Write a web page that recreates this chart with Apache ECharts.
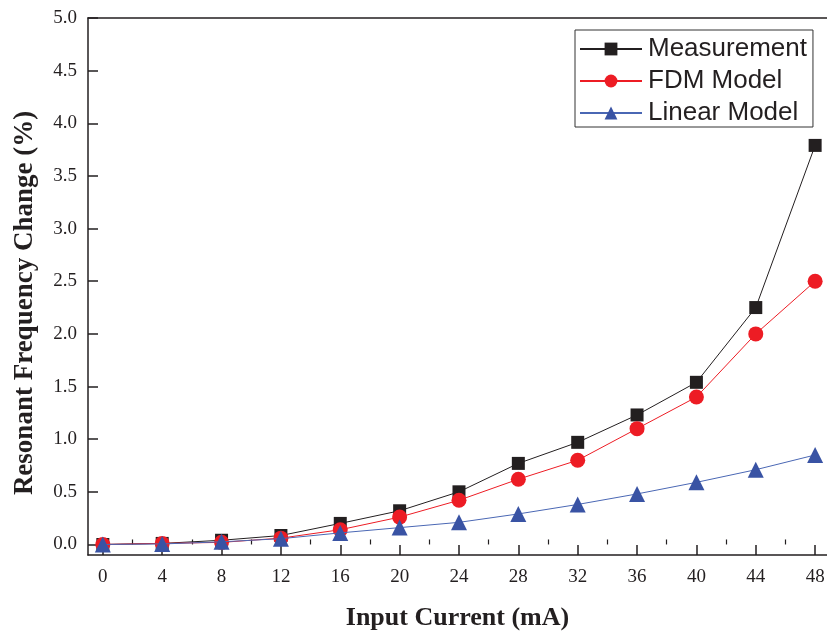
<!DOCTYPE html>
<html>
<head>
<meta charset="utf-8">
<script src="https://cdn.jsdelivr.net/npm/echarts@6/dist/echarts.min.js"></script>
<style>
  html, body { margin: 0; padding: 0; background: #fff; }
  #chart { width: 827px; height: 632px; }
</style>
</head>
<body>
<div id="chart"></div>
<script>
// input current (mA)
const currents = [0, 4, 8, 12, 16, 20, 24, 28, 32, 36, 40, 44, 48]
const measurement = [0.0, 0.01, 0.04, 0.085, 0.2, 0.32, 0.5, 0.77, 0.97, 1.23, 1.54, 2.25, 3.79]
const fdmModel = [0.0, 0.01, 0.02, 0.06, 0.14, 0.26, 0.42, 0.62, 0.8, 1.1, 1.4, 2.0, 2.5]
const linearModel = [0.0, 0.005, 0.025, 0.055, 0.11, 0.16, 0.21, 0.29, 0.38, 0.48, 0.59, 0.71, 0.85]
const xMajorTicks = [0, 4, 8, 12, 16, 20, 24, 28, 32, 36, 40, 44, 48]
const xMinorTicks = [2, 6, 10, 14, 18, 22, 26, 30, 34, 38, 42, 46]
const yTicks = [0, 0.5, 1.0, 1.5, 2.0, 2.5, 3.0, 3.5, 4.0, 4.5, 5.0]

const pairs = ys => currents.map((x, i) => [x, ys[i]])
const serif = 'Liberation Serif'
const axisCol = '#231f20'

const chart = echarts.init(document.getElementById('chart'))
chart.setOption({
  animation: false,
  grid: { left: 88, right: 0, top: 18, bottom: 77, outerBoundsMode: 'none', containLabel: false },
  graphic: [{
    type: 'text', x: 25, y: 303, rotation: Math.PI / 2,
    style: {
      text: 'Resonant Frequency Change (%)',
      font: 'bold 27px "Liberation Serif"', fill: axisCol,
      align: 'center', verticalAlign: 'middle'
    }
  }],
  legend: {
    orient: 'vertical',
    left: 575, top: 30,
    padding: [6, 6, 1, 4],
    itemWidth: 62, itemHeight: 16, itemGap: 6,
    borderColor: '#333', borderWidth: 1,
    backgroundColor: '#fff',
    textStyle: { fontFamily: 'Liberation Sans', fontSize: 26, color: axisCol, lineHeight: 26, padding: [0, 0, 0, 1] },
    data: ['Measurement', 'FDM Model', 'Linear Model']
  },
  xAxis: [
    {
      type: 'value', min: -1, max: 48.8,
      name: 'Input Current (mA)', nameLocation: 'middle', nameGap: 50,
      nameTextStyle: { fontFamily: serif, fontWeight: 'bold', fontSize: 26, color: axisCol },
      axisLine: { onZero: false, lineStyle: { color: axisCol, width: 1.5 } },
      axisTick: { inside: true, length: 10, customValues: xMajorTicks, lineStyle: { color: axisCol, width: 1.5 } },
      axisLabel: { customValues: xMajorTicks, margin: 13, fontFamily: serif, fontSize: 19, color: axisCol },
      splitLine: { show: false }
    },
    {
      type: 'value', min: -1, max: 48.8, position: 'bottom',
      axisLine: { show: false },
      axisTick: { inside: true, length: 5, customValues: xMinorTicks, lineStyle: { color: axisCol, width: 1.2 } },
      axisLabel: { show: false },
      splitLine: { show: false }
    },
    {
      // top frame line
      type: 'value', min: -1, max: 48.8, position: 'top',
      axisLine: { show: true, lineStyle: { color: axisCol, width: 1.5 } },
      axisTick: { show: false },
      axisLabel: { show: false },
      splitLine: { show: false }
    }
  ],
  yAxis: {
    type: 'value', min: -0.1, max: 5.0,
    axisLine: { onZero: false, lineStyle: { color: axisCol, width: 1.5 } },
    axisTick: { inside: true, length: 10, customValues: yTicks, lineStyle: { color: axisCol, width: 1.5 } },
    axisLabel: {
      customValues: yTicks, margin: 11, fontFamily: serif, fontSize: 19, color: axisCol,
      formatter: v => v.toFixed(1)
    },
    splitLine: { show: false }
  },
  series: [
    {
      name: 'Measurement', type: 'line', data: pairs(measurement),
      symbol: 'rect', symbolSize: 13,
      lineStyle: { color: axisCol, width: 1 },
      itemStyle: { color: axisCol }, z: 2
    },
    {
      name: 'FDM Model', type: 'line', data: pairs(fdmModel),
      symbol: 'circle', symbolSize: 15,
      lineStyle: { color: '#ed1c24', width: 1 },
      itemStyle: { color: '#ed1c24' }, z: 3
    },
    {
      name: 'Linear Model', type: 'line', data: pairs(linearModel),
      symbol: 'triangle', symbolSize: 16,
      lineStyle: { color: '#4a67b4', width: 1 },
      itemStyle: { color: '#3953a4' }, z: 4
    }
  ]
})
</script>
</body>
</html>
